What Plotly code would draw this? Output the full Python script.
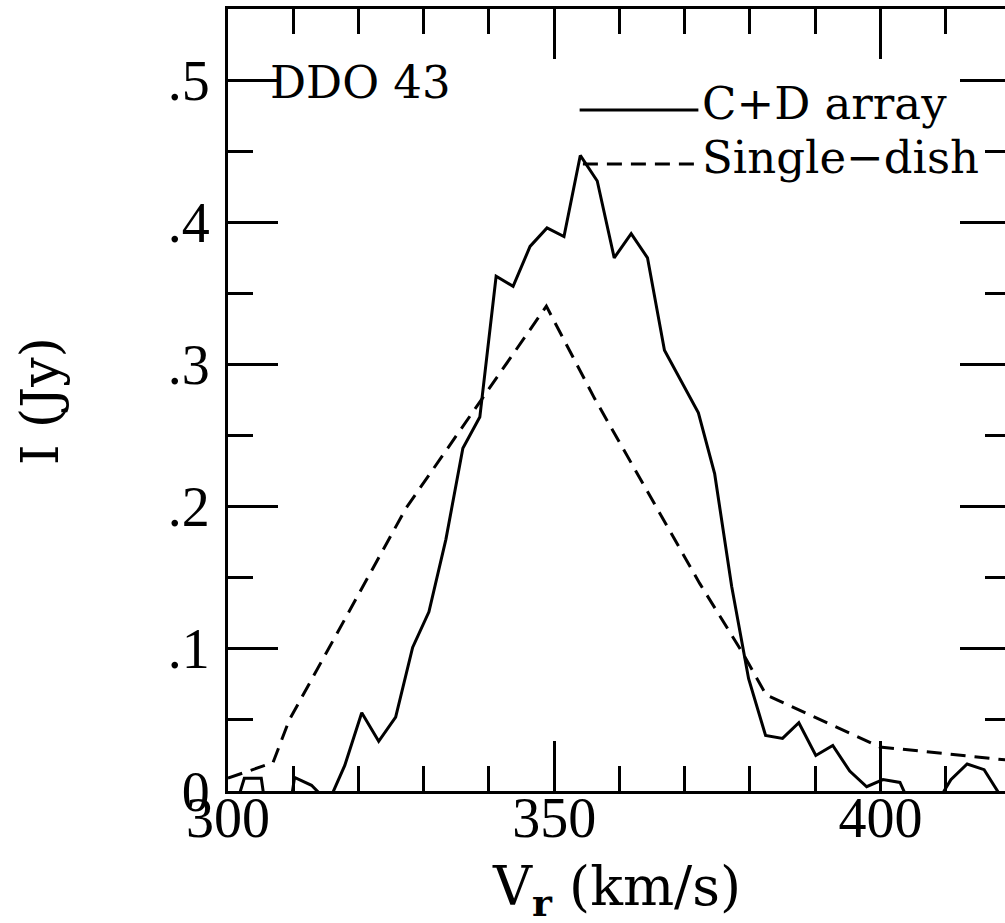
import plotly.graph_objects as go

# C+D array spectrum (VLA channels)
cd_vel = [299.9, 302.5, 305.1, 307.6, 310.2, 312.8, 315.4, 317.9, 320.5, 323.1,
          325.7, 328.3, 330.8, 333.4, 336.0, 338.6, 341.1, 343.7, 346.3, 348.9,
          351.5, 354.0, 356.6, 359.2, 361.8, 364.3, 366.9, 369.5, 372.1, 374.6,
          377.2, 379.8, 382.4, 385.0, 387.5, 390.1, 392.7, 395.3, 397.9, 400.4,
          403.0, 405.6, 408.2, 410.8, 413.3, 415.9, 418.5, 421.1]
cd_flux = [-0.030, 0.009, 0.009, -0.070, 0.0095, 0.004, -0.008, 0.018, 0.055, 0.035,
           0.052, 0.101, 0.126, 0.177, 0.241, 0.263, 0.362, 0.355, 0.383, 0.396,
           0.390, 0.447, 0.429, 0.375, 0.392, 0.375, 0.310, 0.288, 0.266, 0.223,
           0.144, 0.079, 0.039, 0.037, 0.048, 0.025, 0.032, 0.014, 0.003, 0.008,
           0.006, -0.020, -0.012, 0.008, 0.019, 0.015, -0.004, -0.010]

# Single-dish spectrum
sd_vel = [300.0, 306.9, 309.4, 327.3, 348.8, 356.2, 372.3, 378.9, 382.5, 399.9, 421.0]
sd_flux = [0.009, 0.020, 0.050, 0.199, 0.341, 0.276, 0.146, 0.097, 0.0675, 0.031, 0.021]

x_ticks = [300, 350, 400]
x_ticktext = ["300", "350", "400"]
y_ticks = [0, 0.1, 0.2, 0.3, 0.4, 0.5]
y_ticktext = ["0", ".1", ".2", ".3", ".4", ".5"]

X_RANGE = [300, 419.1]
Y_RANGE = [0, 0.55]

fig = go.Figure()
fig.add_trace(go.Scatter(x=cd_vel, y=cd_flux, mode="lines",
                         line=dict(color="black", width=3), showlegend=False))
fig.add_trace(go.Scatter(x=sd_vel, y=sd_flux, mode="lines",
                         line=dict(color="black", width=3, dash="15px,9px"),
                         showlegend=False))
fig.add_trace(go.Scatter(x=[None], y=[None], yaxis="y2", showlegend=False,
                         hoverinfo="skip"))

tick_font = dict(family="Liberation Serif", size=56, color="black")

fig.update_layout(
    width=1005, height=923,
    margin=dict(l=228, r=0, t=9, b=132, pad=0),
    paper_bgcolor="white", plot_bgcolor="white",
    xaxis=dict(range=X_RANGE, showgrid=False, zeroline=False,
               showline=True, linecolor="black", linewidth=3, mirror="ticks",
               ticks="inside", ticklen=50, tickwidth=2.5, tickcolor="black",
               tickvals=x_ticks, ticktext=x_ticktext, tickfont=tick_font,
               ticklabelstandoff=-24,
               minor=dict(ticks="inside", ticklen=25, tickwidth=2.5,
                          tickcolor="black", dtick=10, tick0=300, showgrid=False)),
    yaxis=dict(range=Y_RANGE, showgrid=False, zeroline=False,
               showline=True, linecolor="black", linewidth=3, mirror=False,
               ticks="inside", ticklen=50, tickwidth=2.5, tickcolor="black",
               tickvals=y_ticks, ticktext=y_ticktext, tickfont=tick_font,
               ticklabelstandoff=4,
               minor=dict(ticks="inside", ticklen=25, tickwidth=2.5,
                          tickcolor="black", dtick=0.05, tick0=0, showgrid=False)),
    yaxis2=dict(range=Y_RANGE, overlaying="y", side="right", anchor="x",
                showgrid=False, zeroline=False, showline=False,
                ticks="inside", ticklen=45, tickwidth=2.5, tickcolor="black",
                tickvals=y_ticks, showticklabels=False,
                minor=dict(ticks="inside", ticklen=20, tickwidth=2.5,
                           tickcolor="black", dtick=0.05, tick0=0, showgrid=False)),
)

# legend line samples
fig.add_shape(type="line", xref="x", yref="y", x0=353.9, x1=372.1, y0=0.479, y1=0.479,
              line=dict(color="black", width=3))
fig.add_shape(type="line", xref="x", yref="y", x0=354.4, x1=372.1, y0=0.441, y1=0.441,
              line=dict(color="black", width=3, dash="15px,9px"))

txt_font = dict(family="DejaVu Serif", size=45, color="black")
fig.add_annotation(text="C+D array", xref="paper", yref="paper", x=0.6075, y=0.8797,
                   xanchor="left", yanchor="middle", showarrow=False, font=txt_font)
fig.add_annotation(text="Single\u2212dish", xref="paper", yref="paper", x=0.6075, y=0.8096,
                   xanchor="left", yanchor="middle", showarrow=False, font=txt_font)
fig.add_annotation(text="DDO 43", xref="paper", yref="paper", x=0.0515, y=0.906,
                   xanchor="left", yanchor="middle", showarrow=False, font=txt_font)

title_font = dict(family="DejaVu Serif", size=54, color="black")
fig.add_annotation(text="V<sub><b>r</b></sub> (km/s)", xref="paper", yref="paper",
                   x=0.5006, y=-0.127, xanchor="center", yanchor="middle",
                   showarrow=False, font=title_font)
fig.add_annotation(text="I (Jy)", xref="paper", yref="paper", x=-0.242, y=0.4987,
                   xanchor="center", yanchor="middle", textangle=-90,
                   showarrow=False, font=dict(family="DejaVu Serif", size=52, color="black"))

fig.write_html("out.html", config={"displayModeBar": False},
               post_script="document.body.style.margin='0';document.body.style.overflow='hidden';")
